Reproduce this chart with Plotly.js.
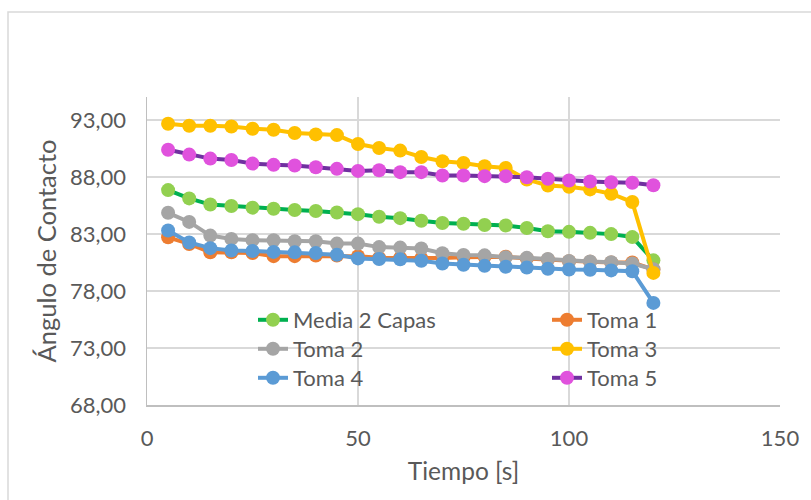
<!DOCTYPE html>
<html>
<head>
<meta charset="utf-8">
<script src="https://cdn.plot.ly/plotly-3.0.1.min.js"></script>
<style>
  html, body { margin: 0; padding: 0; background: #ffffff; }
  #chart { width: 811px; height: 500px; }
</style>
</head>
<body>
<div id="chart"></div>
<script>
// Contact angle over time, sampled every 5 s
const tiempo = [5, 10, 15, 20, 25, 30, 35, 40, 45, 50, 55, 60,
                65, 70, 75, 80, 85, 90, 95, 100, 105, 110, 115, 120];

const media2Capas = [86.84, 86.11, 85.57, 85.44, 85.30, 85.20, 85.10, 85.00, 84.87, 84.73, 84.50, 84.38,
                     84.15, 83.95, 83.89, 83.78, 83.74, 83.52, 83.23, 83.18, 83.09, 82.98, 82.72, 80.68];
const toma1 = [82.70, 82.12, 81.39, 81.39, 81.33, 81.05, 81.05, 81.10, 81.10, 81.04, 80.90, 80.90,
               80.85, 80.88, 80.95, 81.00, 81.00, 80.85, 80.75, 80.60, 80.55, 80.50, 80.50, 79.88];
const toma2 = [84.85, 84.05, 82.85, 82.56, 82.45, 82.44, 82.36, 82.36, 82.15, 82.15, 81.84, 81.80,
               81.72, 81.30, 81.15, 81.12, 80.95, 80.90, 80.80, 80.62, 80.58, 80.52, 80.40, 79.90];
const toma3 = [92.65, 92.48, 92.48, 92.42, 92.22, 92.13, 91.84, 91.72, 91.66, 90.88, 90.53, 90.30,
               89.74, 89.37, 89.22, 88.93, 88.78, 87.77, 87.24, 87.13, 86.90, 86.52, 85.79, 79.58];
const toma4 = [83.30, 82.25, 81.75, 81.55, 81.50, 81.42, 81.38, 81.32, 81.17, 80.85, 80.80, 80.77,
               80.65, 80.40, 80.30, 80.20, 80.12, 80.05, 79.95, 79.88, 79.85, 79.80, 79.73, 76.95];
const toma5 = [90.38, 89.95, 89.60, 89.48, 89.16, 89.05, 88.99, 88.84, 88.70, 88.52, 88.58, 88.41,
               88.41, 88.12, 88.12, 88.06, 88.06, 87.97, 87.83, 87.68, 87.59, 87.53, 87.48, 87.27];

const seriesNames = ['Media 2 Capas', 'Toma 1', 'Toma 2', 'Toma 3', 'Toma 4', 'Toma 5'];
const seriesValues = [media2Capas, toma1, toma2, toma3, toma4, toma5];
const lineColors = ['#00B050', '#ED7D31', '#A5A5A5', '#FFC000', '#5B9BD5', '#7030A0'];
const markerColors = ['#92D050', '#ED7D31', '#A5A5A5', '#FFC000', '#5B9BD5', '#E052DD'];

const FONT = 'Lato, "Open Sans", sans-serif';
const TEXT = '#595959';

// plot area in pixels: x 147..780, y 97..405
const PX = { l: 147, r: 780, t: 97, b: 405 };
const toPaperX = px => (px - PX.l) / (PX.r - PX.l);
const toPaperY = py => (PX.b - py) / (PX.b - PX.t);

// legend laid out as a 2-column grid, one legend box per entry
const legendIds = ['legend', 'legend2', 'legend3', 'legend4', 'legend5', 'legend6'];
const legendCols = [253, 547];
const legendRows = [320, 349, 378];

const traces = seriesNames.map((name, i) => ({
  type: 'scatter',
  mode: 'lines+markers',
  name: name,
  x: tiempo,
  y: seriesValues[i],
  legend: legendIds[i],
  line: { color: lineColors[i], width: 4 },
  marker: { color: markerColors[i], size: 14, line: { width: 0 } }
}));

const layout = {
  width: 811,
  height: 500,
  margin: { l: 147, r: 31, t: 97, b: 95 },
  paper_bgcolor: '#ffffff',
  plot_bgcolor: '#ffffff',
  separators: ',.',
  font: { family: FONT, color: TEXT, size: 22 },
  showlegend: true,
  xaxis: {
    range: [0, 150],
    tickvals: [0, 50, 100, 150],
    tickformat: 'd',
    showgrid: true,
    gridcolor: '#d9d9d9',
    gridwidth: 1.5,
    showline: true,
    linecolor: '#bfbfbf',
    linewidth: 1.5,
    zeroline: false,
    ticks: '',
    ticklabelstandoff: 13,
    tickfont: { family: FONT, size: 22, color: TEXT },
    title: { text: 'Tiempo [s]', font: { family: FONT, size: 24.5, color: TEXT }, standoff: 13 },
    fixedrange: true
  },
  yaxis: {
    range: [68, 95],
    tick0: 68,
    dtick: 5,
    tickformat: '.2f',
    showgrid: true,
    gridcolor: '#d9d9d9',
    gridwidth: 1.5,
    showline: true,
    linecolor: '#bfbfbf',
    linewidth: 1.5,
    zeroline: false,
    ticks: '',
    ticklabelstandoff: 15,
    tickfont: { family: FONT, size: 22, color: TEXT },
    title: { text: 'Ángulo de Contacto', font: { family: FONT, size: 25.5, color: TEXT }, standoff: 6 },
    fixedrange: true
  },
  shapes: [{
    type: 'rect',
    xref: 'paper', yref: 'paper',
    x0: toPaperX(8), x1: toPaperX(830),
    y0: toPaperY(520), y1: toPaperY(12),
    line: { color: '#d9d9d9', width: 1.5 },
    fillcolor: 'rgba(0,0,0,0)',
    layer: 'below'
  }]
};

legendIds.forEach((id, i) => {
  layout[id] = {
    orientation: 'v',
    x: toPaperX(legendCols[i % 2]),
    xanchor: 'left',
    y: toPaperY(legendRows[Math.floor(i / 2)]),
    yanchor: 'middle',
    bgcolor: 'rgba(0,0,0,0)',
    borderwidth: 0,
    font: { family: FONT, size: 22, color: TEXT }
  };
});

Plotly.newPlot('chart', traces, layout, { displayModeBar: false, staticPlot: true });
</script>
</body>
</html>
